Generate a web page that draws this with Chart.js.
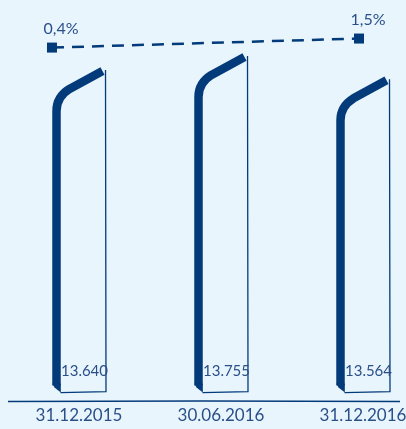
<!DOCTYPE html>
<html>
    <head>
        <title>Columns</title>
        <style>
            body { margin: 0; background: #e9f5fd; }
            #wrap { width: 406px; height: 429px; }
        </style>
    </head>
    <body>
        <div id="wrap"><canvas id="columns"></canvas></div>
    </body>

    <script src="https://cdn.jsdelivr.net/npm/chart.js@4.4.1/dist/chart.umd.min.js"></script>

    <script>
        const dates = ["31.12.2015", "30.06.2016", "31.12.2016"];
        const volume = [13640, 13755, 13564];
        const ratio = [0.4, null, 1.5];

        const NAVY = "#033b7a";
        const INK = "#2a5089";
        const FONT = "Lato, 'Open Sans', sans-serif";
        const Y_MIN = 11000;
        const COL_WIDTH = 53;

        function fmtVolume(v) {
            return v.toLocaleString("de-DE");
        }
        function fmtRatio(v) {
            return v.toFixed(1).replace(".", ",") + "%";
        }

        // hand-drawn looking column: thick bent front edge, thin back edge
        function drawColumn(ctx, cx, top, bottom, w) {
            const L = cx - w / 2;
            const R = cx + w / 2;

            ctx.save();
            ctx.strokeStyle = NAVY;
            ctx.lineWidth = 1.3;
            ctx.beginPath();
            ctx.moveTo(R, top + 1);
            ctx.lineTo(R + 0.5, bottom);
            ctx.lineTo(L + 8, bottom + 1);
            ctx.stroke();

            ctx.lineWidth = 8.5;
            ctx.lineCap = "butt";
            ctx.lineJoin = "round";
            ctx.beginPath();
            ctx.moveTo(L + 4, bottom - 6);
            ctx.lineTo(L + 4, top + 42);
            ctx.quadraticCurveTo(L + 4, top + 28, L + 17, top + 20);
            ctx.lineTo(R - 3, top + 2);
            ctx.stroke();

            ctx.fillStyle = NAVY;
            ctx.beginPath();
            ctx.moveTo(L - 0.2, bottom - 8);
            ctx.lineTo(L + 8.3, bottom - 8);
            ctx.lineTo(L + 8.3, bottom + 1);
            ctx.lineTo(L + 2, bottom - 4);
            ctx.closePath();
            ctx.fill();
            ctx.restore();
        }

        const decor = {
            id: "decor",
            beforeDraw(chart) {
                const ctx = chart.ctx;
                ctx.save();
                ctx.fillStyle = "#e9f5fd";
                ctx.fillRect(0, 0, chart.width, chart.height);
                ctx.restore();
            },
            afterDatasetsDraw(chart) {
                const ctx = chart.ctx;
                const area = chart.chartArea;
                const xs = chart.scales.x;
                const ys = chart.scales.y;
                const base = ys.getPixelForValue(Y_MIN);

                // columns + values
                volume.forEach((v, i) => {
                    const cx = xs.getPixelForValue(i);
                    drawColumn(ctx, cx, ys.getPixelForValue(v), base, COL_WIDTH);
                    ctx.save();
                    ctx.fillStyle = INK;
                    ctx.font = "15px " + FONT;
                    ctx.textAlign = "center";
                    ctx.textBaseline = "middle";
                    ctx.fillText(fmtVolume(v), cx + 5.5, base - 20);
                    ctx.restore();
                });

                // ground line
                ctx.save();
                ctx.strokeStyle = NAVY;
                ctx.lineWidth = 1.5;
                ctx.beginPath();
                ctx.moveTo(8, area.bottom + 10);
                ctx.quadraticCurveTo(200, area.bottom + 9, 400, area.bottom + 10);
                ctx.stroke();
                ctx.restore();

                // ratio markers + labels
                const pts = chart.getDatasetMeta(0).data;
                const vals = chart.data.datasets[0].data;
                ctx.save();
                ctx.fillStyle = NAVY;
                pts.forEach(p => {
                    ctx.fillRect(p.x - 5, p.y - 5, 10, 10);
                });
                ctx.fillStyle = INK;
                ctx.font = "16px " + FONT;
                ctx.textAlign = "center";
                ctx.textBaseline = "alphabetic";
                pts.forEach((p, i) => {
                    ctx.fillText(fmtRatio(vals[i].y), p.x + 9, p.y - 14);
                });
                ctx.restore();
            }
        };

        const ratioPoints = ratio
            .map((v, i) => ({ x: i, y: v }))
            .filter(p => p.y !== null);

        const ctx = document.getElementById("columns").getContext("2d");
        const chart = new Chart(ctx, {
            type: "bar",
            data: {
                labels: dates,
                datasets: [
                    {
                        type: "line",
                        data: ratioPoints,
                        xAxisID: "xl",
                        yAxisID: "y2",
                        borderColor: NAVY,
                        borderWidth: 2.5,
                        borderDash: [12, 8],
                        pointRadius: 0,
                        clip: false,
                        order: 0
                    },
                    {
                        data: volume,
                        base: Y_MIN,
                        backgroundColor: "rgba(0,0,0,0)",
                        borderWidth: 0,
                        barThickness: COL_WIDTH,
                        order: 1
                    }
                ]
            },
            options: {
                responsive: true,
                maintainAspectRatio: false,
                animation: false,
                layout: { padding: { top: 25, left: 79, right: 43, bottom: -11 } },
                plugins: {
                    legend: { display: false },
                    tooltip: { enabled: false }
                },
                scales: {
                    x: {
                        offset: false,
                        grid: { display: false, drawTicks: false, offset: false },
                        border: { display: false },
                        ticks: {
                            padding: 14,
                            color: INK,
                            font: { family: FONT, size: 17 },
                            maxRotation: 0,
                            autoSkip: false
                        },
                        afterFit(scale) {
                            scale.paddingLeft = 0;
                            scale.paddingRight = 0;
                        }
                    },
                    xl: {
                        type: "linear",
                        display: false,
                        offset: false,
                        grid: { offset: false },
                        min: 0.176,
                        max: 2.026
                    },
                    y: {
                        display: false,
                        beginAtZero: false,
                        min: Y_MIN,
                        max: 14000
                    },
                    y2: {
                        display: false,
                        beginAtZero: false,
                        min: -41.5,
                        max: 3.15
                    }
                }
            },
            plugins: [decor]
        });
    </script>
</html>
